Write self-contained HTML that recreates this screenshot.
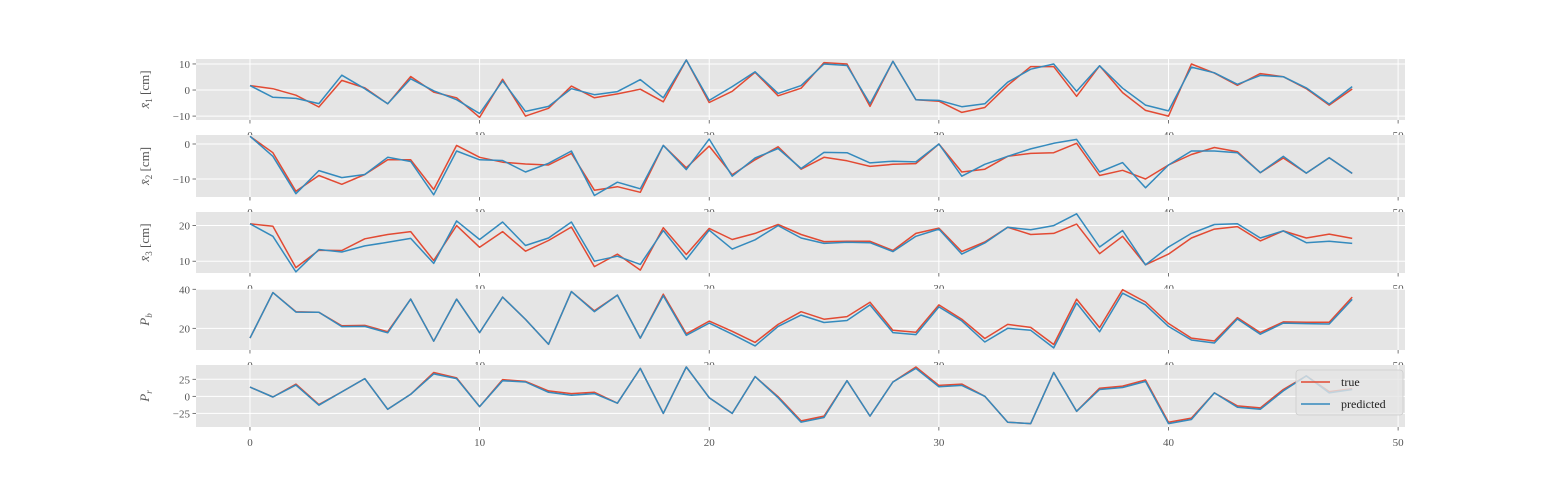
<!DOCTYPE html>
<html><head><meta charset="utf-8"><style>
html,body{margin:0;padding:0;background:#fff;}
svg{display:block;}
text{font-family:"Liberation Serif",serif;}
</style></head><body>
<svg id="chart" width="1562" height="480" viewBox="0 0 1562 480" xmlns="http://www.w3.org/2000/svg"></svg>
<script>
const xs = [];
for (let i = 0; i < 49; i++) xs.push(i);
const xTicks = [0, 10, 20, 30, 40, 50];

const x1True = [1.7,0.5,-2,-6.5,3.7,0.8,-5.3,5.2,-0.8,-3,-10.5,4.1,-10,-7,1.5,-3,-1.5,0.3,-4.5,11.5,-4.8,-0.5,6.8,-2.2,0.7,10.5,10,-6.3,11,-3.7,-4.3,-8.6,-6.7,1.8,9,9,-2.4,9.3,-1,-7.8,-10,10,6.5,1.8,6.3,5.1,0.5,-5.8,0.4];
const x1Pred = [1.7,-2.8,-3.2,-5.2,5.7,0.5,-5.3,4.3,-0.3,-3.7,-9,3.5,-8.2,-6.3,0.5,-1.8,-0.6,4,-3,11.5,-4,1.3,7,-1.3,1.7,10,9.4,-5.3,11,-3.7,-4,-6.4,-5.3,3,8,10,-0.5,9.3,0.7,-5.8,-8,8.8,6.6,2.2,5.6,5.1,0.8,-5.4,1.3];
const x2True = [2.2,-2.5,-13.5,-9,-11.5,-8.7,-4.5,-4.5,-13,-0.4,-3.8,-5.2,-5.7,-6,-2.7,-13.2,-12.2,-13.8,-0.4,-6.8,-0.6,-8.8,-4.5,-0.8,-7.2,-3.8,-4.8,-6.4,-5.8,-5.6,0,-8,-7.2,-3.5,-2.7,-2.5,0.2,-9,-7.5,-10,-6,-3,-1,-2.2,-8.2,-4,-8.3,-3.9,-8.4];
const x2Pred = [2.2,-3.5,-14.2,-7.6,-9.6,-8.7,-3.8,-5,-14.5,-2,-4.5,-4.7,-8,-5.5,-2,-14.7,-10.9,-12.8,-0.4,-7.3,1.4,-9.2,-4,-1.3,-7,-2.4,-2.5,-5.4,-4.9,-5.1,0,-9.2,-5.8,-3.5,-1.4,0.2,1.3,-8,-5.3,-12.5,-6,-2,-2,-2.5,-8.2,-3.5,-8.3,-3.9,-8.4];
const x3True = [20.5,19.8,8.2,13.1,13,16.3,17.5,18.3,10.2,20,13.9,18.3,12.8,15.8,19.6,8.5,12,7.5,19.4,11.9,19.2,16.1,17.8,20.3,17.5,15.5,15.6,15.6,13,17.8,19.3,12.7,15.4,19.5,17.5,17.8,20.4,12.1,17,9,12,16.5,19,19.7,15.7,18.5,16.5,17.6,16.4];
const x3Pred = [20.5,17,7,13.3,12.6,14.3,15.3,16.4,9.4,21.3,16.1,21,14.4,16.5,21,10,11.4,9.1,18.6,10.5,18.7,13.4,16,20,16.5,15,15.3,15.2,12.7,17,19,12,15.1,19.5,18.8,20,23.3,14,18.6,9,14,17.8,20.3,20.5,16.5,18.5,15.2,15.6,15];
const pbTrue = [15,38.3,28.5,28.2,21.3,21.5,18.3,35,13.4,35,17.8,36,24.6,11.8,38.8,29,37,15,37.5,17.2,23.7,18.5,12.8,22,28.5,24.7,26,33.4,19,18,32,24.7,14.8,22,20.5,11.7,35,20.4,39.8,33.5,22.5,15,13.5,25.5,17.8,23.3,23.1,23.1,36];
const pbPred = [15,38.3,28.3,28.2,20.9,21,17.7,35,13.4,35,17.8,36,24.6,11.8,38.8,28.5,37,15,36.7,16.4,22.7,17,11,21,26.8,23,24,32,17.8,16.8,31,23.8,13,20,19,10,33,18.2,38,32,21,14,12.5,24.8,17,22.7,22.4,22.2,34.8];
const prTrue = [13.5,-1,18,-12,6.5,26,-19,3,35,27,-15,24.5,22,8,4,6,-10,41,-25,43,-2,-25,29,-0.5,-36,-29,23,-29,21,43,16,18,0,-38,-40,35,-22,12,15,24,-38,-32,5,-14,-17,10,30,7,11];
const prPred = [13.5,-1,16.5,-13,6.5,26,-19,3,33,26,-15,23,21,6,1.5,4,-10,41,-25,43,-2,-25,29,-2,-38,-31,23,-29,21,41,14,16,0,-38,-40,35,-22,10,13,22,-40,-34,5,-16,-19,8,30,5,10];

const yTicks1 = [-10, 0, 10];
const yTicks2 = [-10, 0];
const yTicks3 = [10, 20];
const yTicks4 = [20, 40];
const yTicks5 = [-25, 0, 25];
const yTickLabels5 = ["\u221225", "0", "25"];

const NS = "http://www.w3.org/2000/svg";
const svg = document.getElementById('chart');
const L = 196, R = 1405, X0 = -2.35, X1 = 50.3;
function xPos(v){ return L + (v - X0) / (X1 - X0) * (R - L); }
function mk(tag, attrs, parent){ const e = document.createElementNS(NS, tag); for (const k in attrs) e.setAttribute(k, attrs[k]); (parent||svg).appendChild(e); return e; }

const panels = [
  {name:'x1', top:59, bot:120, ymin:-11.5, ymax:11.9, ticks:yTicks1, labels:null, t:x1True, p:x1Pred, lab:'1', cm:true},
  {name:'x2', top:135, bot:197, ymin:-15.14, ymax:2.57, ticks:yTicks2, labels:null, t:x2True, p:x2Pred, lab:'2', cm:true},
  {name:'x3', top:212, bot:273, ymin:6.7, ymax:23.8, ticks:yTicks3, labels:null, t:x3True, p:x3Pred, lab:'3', cm:true},
  {name:'pb', top:289, bot:350, ymin:8.9, ymax:40.15, ticks:yTicks4, labels:null, t:pbTrue, p:pbPred, lab:'b', cm:false},
  {name:'pr', top:365, bot:427, ymin:-45, ymax:46, ticks:yTicks5, labels:yTickLabels5, t:prTrue, p:prPred, lab:'r', cm:false}
];

panels.forEach((pn, idx) => {
  const g = mk('g', {});
  
  
  const yPos = v => pn.bot - (v - pn.ymin) / (pn.ymax - pn.ymin) * (pn.bot - pn.top);
  const bg = mk('rect', {x:L, y:pn.top, width:R-L, height:pn.bot-pn.top, fill:'#E5E5E5'}, g);
  
  
  xTicks.forEach(t => {
    const gl = mk('line', {x1:xPos(t), x2:xPos(t), y1:pn.top, y2:pn.bot, stroke:'#fff', 'stroke-width':1}, g);
    
    
    mk('line', {x1:xPos(t), x2:xPos(t), y1:pn.bot, y2:pn.bot+3.5, stroke:'#555', 'stroke-width':0.8}, g);
    const tl = mk('text', {x:xPos(t), y:pn.bot+19, 'font-size':11, fill:'#555', 'text-anchor':'middle'}, g);
    
    
    tl.textContent = String(t);
  });
  pn.ticks.forEach((t, i) => {
    const y = yPos(t);
    const gl = mk('line', {x1:L, x2:R, y1:y, y2:y, stroke:'#fff', 'stroke-width':1}, g);
    
    
    mk('line', {x1:L-3.5, x2:L, y1:y, y2:y, stroke:'#555', 'stroke-width':0.8}, g);
    const tl = mk('text', {x:L-6, y:y+4, 'font-size':11, fill:'#555', 'text-anchor':'end'}, g);
    
    
    tl.textContent = pn.labels ? pn.labels[i] : (t < 0 ? '\u2212' + (-t) : String(t));
  });
  [[pn.t, '#E24A33', 'true'], [pn.p, '#348ABD', 'predicted']].forEach(([arr, col, nm]) => {
    const d = arr.map((v, i) => (i ? 'L' : 'M') + xPos(xs[i]).toFixed(1) + ',' + yPos(v).toFixed(1)).join(' ');
    const pl = mk('path', {d:d, fill:'none', stroke:col, 'stroke-width':1.5, 'stroke-linejoin':'round'}, g);
    
    
  });
  const cy = (pn.top + pn.bot) / 2;
  const yl = mk('text', {transform:'translate(149,' + cy + ') rotate(-90)', 'font-size':13, fill:'#555', 'text-anchor':'middle'}, g);
  
  
  if (pn.cm) {
    yl.innerHTML = '<tspan font-style="italic">x\u0304</tspan><tspan font-size="9" dy="3">' + pn.lab + '</tspan><tspan dy="-3"> [cm]</tspan>';
  } else {
    yl.innerHTML = '<tspan font-style="italic">P</tspan><tspan font-size="9" font-style="italic" dy="3">' + pn.lab + '</tspan>';
  }
});

// legend
const lg = mk('g', {});


mk('rect', {x:1296, y:370, width:107, height:45, rx:3, fill:'#E5E5E5', 'fill-opacity':0.8, stroke:'#ccc', 'stroke-width':0.8}, lg);
[['true', '#E24A33', 382], ['predicted', '#348ABD', 404]].forEach(([t, c, y]) => {
  const e = mk('g', {}, lg);
  
  
  mk('line', {x1:1301, x2:1330, y1:y, y2:y, stroke:c, 'stroke-width':1.5}, e);
  const tx = mk('text', {x:1341, y:y+4, 'font-size':12, fill:'#222', 'font-family':'Liberation Sans, sans-serif'}, e);
  tx.textContent = t;
});
</script>
</body></html>
